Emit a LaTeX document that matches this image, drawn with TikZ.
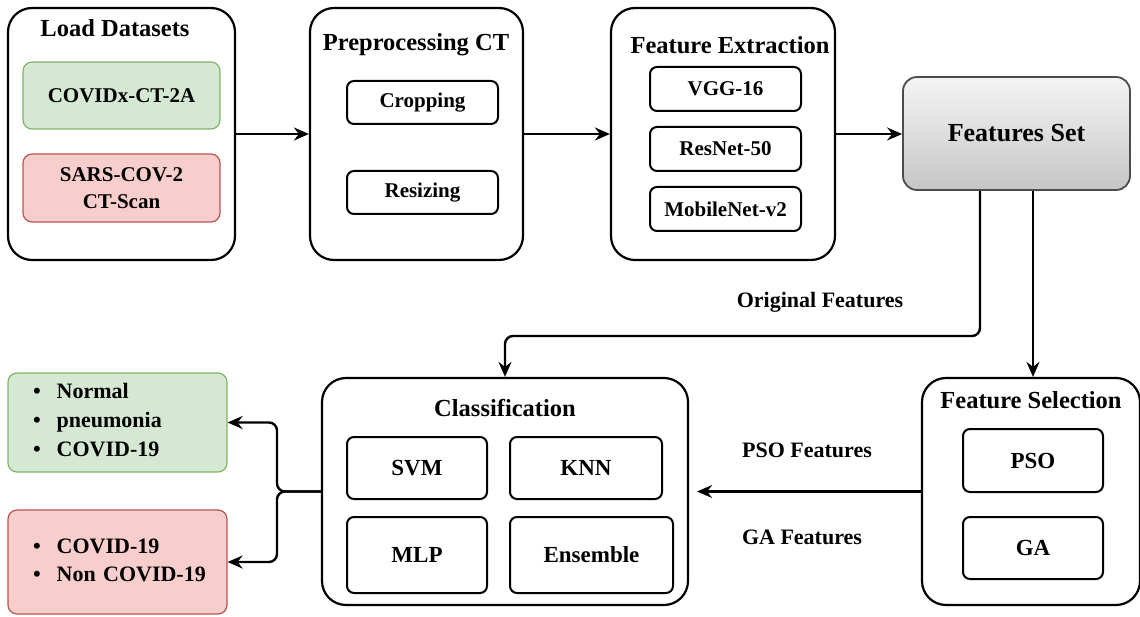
\documentclass[tikz,border=0pt]{standalone}
\usepackage{fontspec}
\setmainfont{Liberation Serif}
\usepackage{tikz}
\usetikzlibrary{positioning, arrows.meta, shapes.geometric}
\definecolor{greenFill}{HTML}{D5E8D4}
\definecolor{greenLine}{HTML}{82B366}
\definecolor{redFill}{HTML}{F8CECC}
\definecolor{redLine}{HTML}{B85450}

\begin{document}
\begin{tikzpicture}[x=1pt, y=-1pt,
    outer/.style={draw, line width=2.2pt, rounded corners=24pt, inner sep=0pt},
    inner/.style={draw, line width=2pt, rounded corners=7pt, inner sep=0pt, font=\bfseries\fontsize{21}{25}\selectfont},
    title/.style={font=\bfseries\fontsize{24.5}{28}\selectfont},
    lbl/.style={font=\bfseries\fontsize{22}{26}\selectfont},
    greenbox/.style={draw=greenLine, fill=greenFill, line width=1.2pt, rounded corners=9pt},
    redbox/.style={draw=redLine, fill=redFill, line width=1.2pt, rounded corners=9pt},
    arr/.style={-{Stealth[length=15pt, width=13pt, inset=5pt]}, line width=2.4pt}]
    \useasboundingbox (0,0) rectangle (1140,617);

    % Load datasets
    \node[outer, minimum width=227, minimum height=252] (load) at (121.5,134) {};
    \node[title] (loadT) at (115,28) {Load Datasets};
    \node[inner, greenbox, minimum width=197, minimum height=67] (covx) at (121.5,95.5) {COVIDx-CT-2A};
    \node[inner, redbox, minimum width=197, minimum height=68, align=center, font=\bfseries\fontsize{21}{27}\selectfont] (sars) at (121.5,188) {SARS-COV-2\\CT-Scan};

    % Preprocessing
    \node[outer, minimum width=213, minimum height=252] (prep) at (416.5,134) {};
    \node[title] (prepT) at (416,45) {Preprocessing CT};
    \node[inner, minimum width=151, minimum height=43] (crop) at (422.5,102.5) {Cropping};
    \node[inner, minimum width=151, minimum height=43] (resz) at (422.5,192.5) {Resizing};

    % Feature extraction
    \node[outer, minimum width=224, minimum height=252] (fext) at (723,134) {};
    \node[title] (fextT) at (730,45) {Feature Extraction};
    \node[inner, minimum width=151, minimum height=44] (vgg) at (725.5,89) {VGG-16};
    \node[inner, minimum width=151, minimum height=44] (resn) at (725.5,149) {ResNet-50};
    \node[inner, minimum width=151, minimum height=44] (mob) at (725.5,209) {MobileNet-v2};

    % Features set
    \node[draw=gray!60!black, line width=1.8pt, rounded corners=14pt, top color=gray!8, bottom color=gray!45,
          minimum width=227, minimum height=113, font=\bfseries\fontsize{26}{30}\selectfont] (fset) at (1016.5,133.5) {Features Set};

    % Feature selection
    \node[outer, minimum width=218, minimum height=227] (fsel) at (1031,491.5) {};
    \node[title] (fselT) at (1031,400) {Feature Selection};
    \node[inner, minimum width=140, minimum height=63, font=\bfseries\fontsize{23}{26}\selectfont] (pso) at (1033,460.5) {PSO};
    \node[inner, minimum width=140, minimum height=62, font=\bfseries\fontsize{23}{26}\selectfont] (ga) at (1033,548) {GA};

    % Classification
    \node[outer, minimum width=366, minimum height=227] (cls) at (505,491.5) {};
    \node[title] (clsT) at (505,408) {Classification};
    \node[inner, minimum width=140, minimum height=62, font=\bfseries\fontsize{23}{26}\selectfont] (svm) at (417,468) {SVM};
    \node[inner, minimum width=152, minimum height=62, font=\bfseries\fontsize{23}{26}\selectfont] (knn) at (586,468) {KNN};
    \node[inner, minimum width=140, minimum height=76, font=\bfseries\fontsize{23}{26}\selectfont] (mlp) at (417,555) {MLP};
    \node[inner, minimum width=163, minimum height=76, font=\bfseries\fontsize{23}{26}\selectfont] (ens) at (591.5,555) {Ensemble};

    % Outputs
    \node[greenbox, minimum height=99, text width=169pt, inner xsep=25pt, font=\bfseries\fontsize{22}{26}\selectfont] (out1) at (117.5,422.5)
        {\begin{tabular}{@{}l@{\hspace{16pt}}l@{}}\textbullet & Normal\\[3pt] \textbullet & pneumonia\\[3pt] \textbullet & COVID-19\end{tabular}};
    \node[redbox, minimum height=104, text width=169pt, inner xsep=25pt, font=\bfseries\fontsize{22}{26}\selectfont] (out2) at (117.5,562)
        {\begin{tabular}{@{}l@{\hspace{16pt}}l@{}}\textbullet & COVID-19\\[2pt] \textbullet & Non COVID-19\end{tabular}};

    % Arrows along the top
    \draw[arr] (load.east) -- (prep.west);
    \draw[arr] (prep.east) -- (fext.west);
    \draw[arr] (fext.east) -- (fext.east -| fset.west);

    % Original features
    \coordinate (bend) at (505,336);
    \draw[arr, rounded corners=8pt] ([xshift=-36.5]fset.south) |- (bend) -- (cls.north);
    \node[lbl] (origL) at (820,302) {Original Features};

    % To feature selection
    \draw[arr] ([xshift=16.5]fset.south) -- ([xshift=16.5]fset.south |- fsel.north);

    % Selected features
    \draw[arr, shorten >=8pt] (fsel.west) -- (cls.east);
    \node[lbl] (psoL) at (807,450) {PSO Features};
    \node[lbl] (gaL) at (802,537) {GA Features};

    % Outputs fork
    \coordinate (fork) at (277,491.5);
    \draw[arr, rounded corners=8pt] (cls.west) -- (fork) |- (out1.east);
    \draw[arr, rounded corners=8pt] (cls.west) -- (fork) |- (out2.east);
\end{tikzpicture}
\end{document}
